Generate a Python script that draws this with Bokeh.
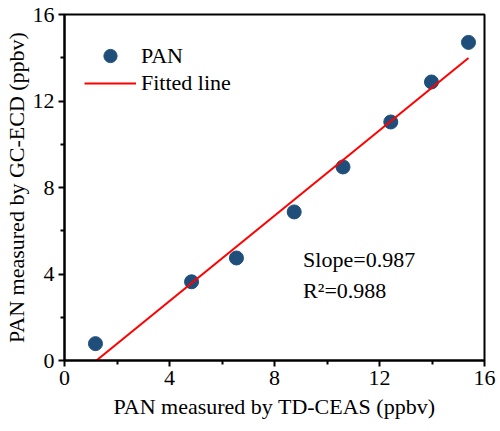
from bokeh.plotting import figure
from bokeh.models import Range1d, FixedTicker, Legend, LegendItem, Label
from bokeh.embed import file_html
from bokeh.resources import INLINE

# PAN comparison: TD-CEAS vs GC-ECD (ppbv)
td_ceas = [1.18, 4.84, 6.55, 8.75, 10.61, 12.43, 13.98, 15.39]
gc_ecd = [0.78, 3.64, 4.74, 6.87, 8.95, 11.03, 12.88, 14.71]

# linear fit parameters
slope = 0.987
intercept = -1.20
r_squared = 0.988

x_ticks = [0, 4, 8, 12, 16]
y_ticks = [0, 4, 8, 12, 16]
minor_ticks = [2, 6, 10, 14]

FONT = "Liberation Serif"
FS = "22px"
POINT_COLOR = "#1f4e7a"

p = figure(
    width=500, height=431,
    output_backend="svg", toolbar_location=None,
    x_range=Range1d(0, 16), y_range=Range1d(0, 16),
    min_border_left=63, min_border_right=16,
    min_border_top=14, min_border_bottom=71,
)
p.background_fill_color = "white"
p.border_fill_color = "white"
p.grid.visible = False
p.outline_line_color = "black"
p.outline_line_width = 2

fit_x = [min(td_ceas), max(td_ceas)]
fit_y = [slope * v + intercept for v in fit_x]

pts = p.scatter(td_ceas, gc_ecd, size=14, color=POINT_COLOR, line_color=POINT_COLOR)
fit = p.line(fit_x, fit_y, line_color="#ff0000", line_width=2)

for ax, ticks in ((p.xaxis[0], x_ticks), (p.yaxis[0], y_ticks)):
    ax.ticker = FixedTicker(ticks=ticks, minor_ticks=minor_ticks)
    ax.axis_line_color = "black"
    ax.axis_line_width = 2
    ax.major_tick_line_color = "black"
    ax.major_tick_line_width = 2
    ax.minor_tick_line_color = "black"
    ax.minor_tick_line_width = 2
    ax.major_tick_in = 0
    ax.major_tick_out = 6
    ax.minor_tick_in = 0
    ax.minor_tick_out = 4
    ax.major_label_text_font = FONT
    ax.major_label_text_font_size = FS
    ax.major_label_text_color = "black"
    ax.axis_label_text_font = FONT
    ax.axis_label_text_font_size = FS
    ax.axis_label_text_font_style = "normal"
    ax.axis_label_text_color = "black"

p.xaxis[0].axis_label = "PAN measured by TD-CEAS (ppbv)"
p.yaxis[0].axis_label = "PAN measured by GC-ECD (ppbv)"
p.xaxis[0].major_label_standoff = 4
p.yaxis[0].major_label_standoff = 4
p.xaxis[0].axis_label_standoff = 6
p.yaxis[0].axis_label_standoff = 1

legend_style = dict(
    margin=0, padding=0, spacing=0,
    glyph_width=52, label_standoff=5,
    label_text_font=FONT, label_text_font_size=FS, label_text_color="black",
    border_line_color=None, background_fill_alpha=0,
)
# one legend per entry so the marker can be drawn at full size
p.add_layout(Legend(items=[LegendItem(label="PAN", renderers=[pts])],
                    location=(20, 288), glyph_height=33, label_height=33,
                    **legend_style))
p.add_layout(Legend(items=[LegendItem(label="Fitted line", renderers=[fit])],
                    location=(20, 264), glyph_height=20, label_height=20,
                    **legend_style))

label_style = dict(text_font=FONT, text_font_size=FS, text_color="black",
                   text_baseline="middle")
p.add_layout(Label(x=9.09, y=4.68, text=f"Slope={slope:.3f}", **label_style))
p.add_layout(Label(x=9.09, y=3.25, text=f"R\u00b2={r_squared:.3f}", **label_style))

open("out.html", "w").write(file_html(p, INLINE))
